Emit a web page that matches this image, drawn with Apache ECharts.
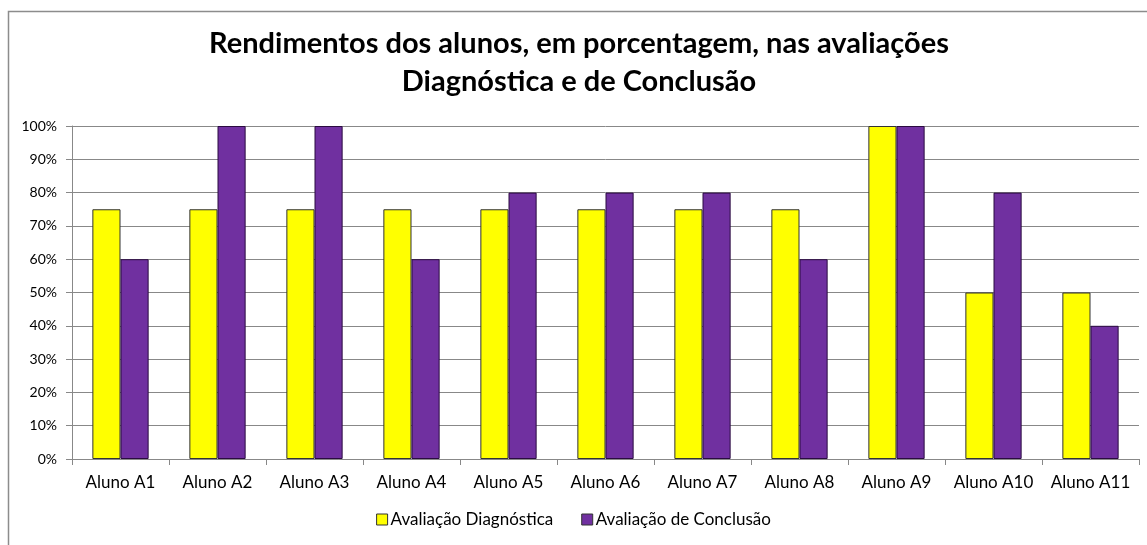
<!DOCTYPE html>
<html>
<head>
<meta charset="utf-8">
<script src="https://cdn.jsdelivr.net/npm/echarts@6/dist/echarts.min.js"></script>
<style>
  html, body { margin: 0; padding: 0; background: #fff; }
  #chart { width: 1147px; height: 545px; }
</style>
</head>
<body>
<div id="chart"></div>
<script>
// 数据
var alunos = ["Aluno A1", "Aluno A2", "Aluno A3", "Aluno A4", "Aluno A5", "Aluno A6",
  "Aluno A7", "Aluno A8", "Aluno A9", "Aluno A10", "Aluno A11"];
var diagnostica = [75, 75, 75, 75, 75, 75, 75, 75, 100, 50, 50];
var conclusao = [60, 100, 100, 60, 80, 80, 80, 60, 100, 80, 40];
var nomes = ["Avaliação Diagnóstica", "Avaliação de Conclusão"];

(function() {
  var myChart = echarts.init(document.getElementById("chart"));
  var fonte = "Lato, 'Open Sans', sans-serif";

  var option = {
    animation: false,
    color: ["#FFFF00", "#7030A0"],
    textStyle: { fontFamily: fonte },
    title: {
      text: "Rendimentos dos alunos, em porcentagem, nas avaliações\nDiagnóstica e de Conclusão",
      left: 574,
      top: 20,
      textAlign: "center",
      textStyle: {
        fontFamily: fonte,
        fontSize: 29,
        fontWeight: "bold",
        color: "#000",
        lineHeight: 38
      }
    },
    // 外框
    graphic: [{
      type: "rect",
      shape: { x: 8.5, y: 11.5, width: 1150, height: 550 },
      style: { fill: "none", stroke: "#8c8c8c", lineWidth: 1.5 },
      silent: true
    }],
    legend: {
      bottom: 12,
      left: "center",
      itemWidth: 11,
      itemHeight: 11,
      itemGap: 28,
      icon: "rect",
      data: nomes,
      itemStyle: { borderColor: "#333", borderWidth: 1 },
      textStyle: { fontFamily: fonte, fontSize: 17, color: "#000", padding: [0, 0, 0, -2] }
    },
    grid: {
      left: 72,
      right: 8,
      top: 126,
      bottom: 86
    },
    xAxis: {
      type: "category",
      data: alunos,
      axisLine: { lineStyle: { color: "#888" } },
      axisTick: { show: true, length: 6, lineStyle: { color: "#888" } },
      axisLabel: { color: "#000", fontSize: 17, margin: 15, interval: 0, hideOverlap: false }
    },
    yAxis: {
      type: "value",
      min: 0,
      max: 100,
      interval: 10,
      axisLine: { show: true, lineStyle: { color: "#888" } },
      axisTick: { show: true, length: 6, lineStyle: { color: "#888" } },
      axisLabel: { color: "#000", fontSize: 14, margin: 15, formatter: "{value}%" },
      splitLine: { lineStyle: { color: "#888" } }
    },
    series: [
      {
        name: nomes[0],
        type: "bar",
        data: diagnostica,
        barGap: "0%",
        barCategoryGap: "42%",
        itemStyle: { borderColor: "#333", borderWidth: 1 }
      },
      {
        name: nomes[1],
        type: "bar",
        data: conclusao,
        barGap: "0%",
        barCategoryGap: "42%",
        itemStyle: { borderColor: "#2a0b40", borderWidth: 1 }
      }
    ]
  };

  myChart.setOption(option);
  window.addEventListener("resize", function() {
    myChart.resize();
  });
})();
</script>
</body>
</html>
